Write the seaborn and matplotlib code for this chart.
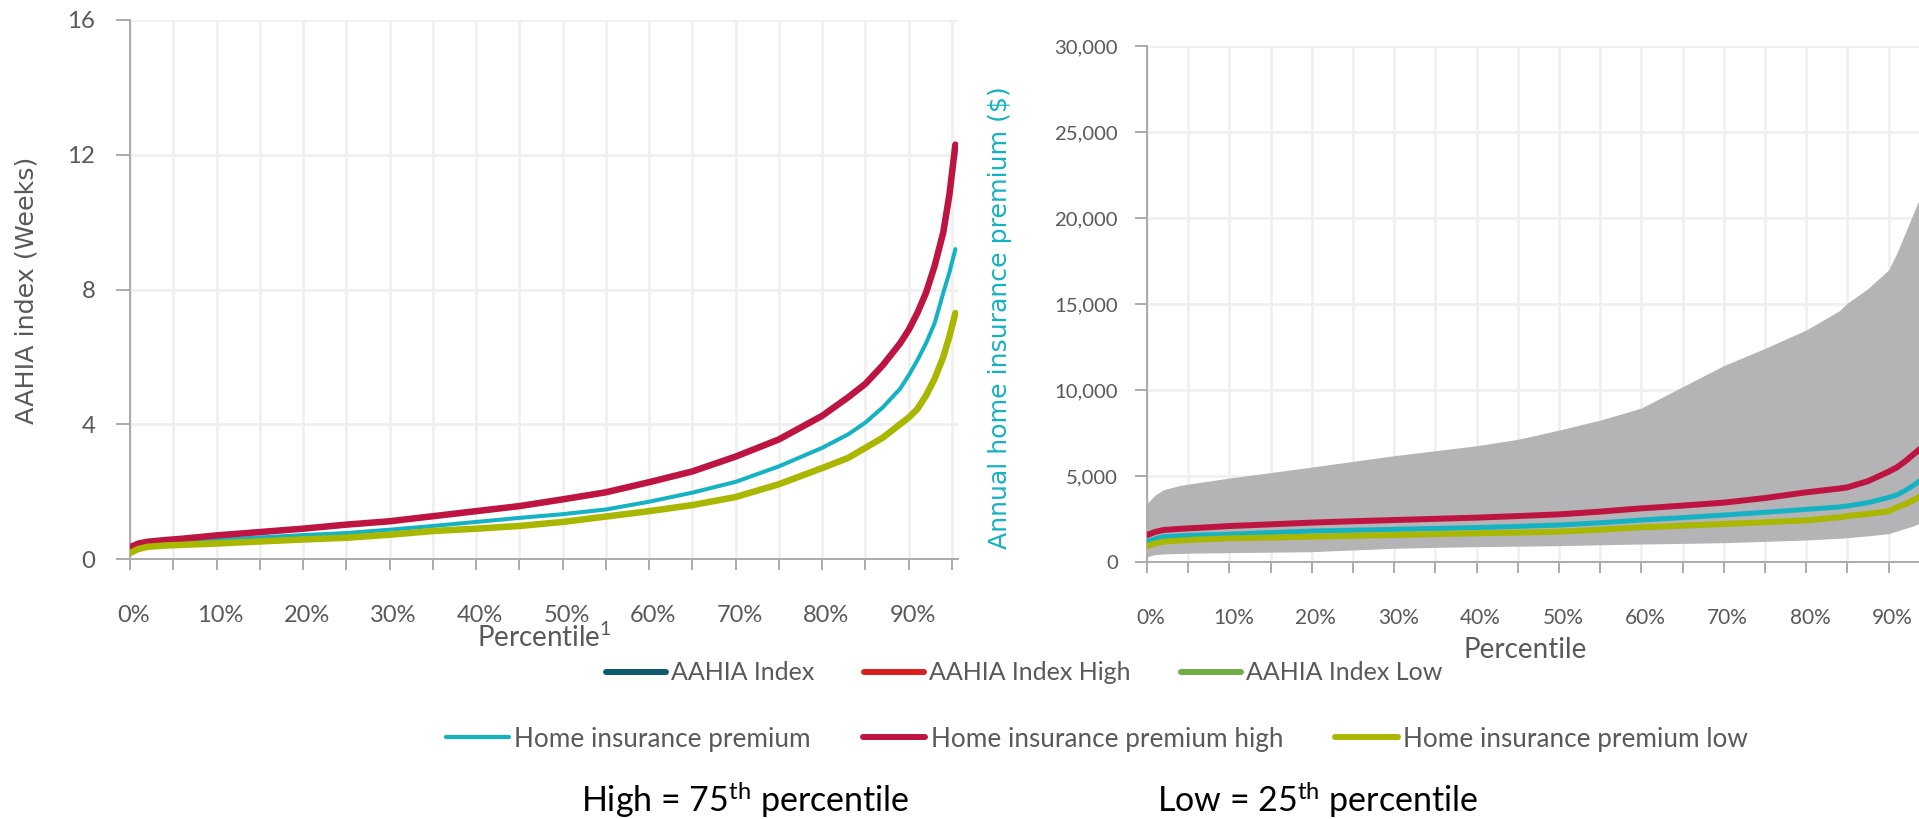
import matplotlib
matplotlib.use("Agg")
import matplotlib.pyplot as plt
from matplotlib.lines import Line2D
from matplotlib.ticker import FixedLocator, FuncFormatter
from matplotlib.transforms import ScaledTranslation
import seaborn as sns

# ---------------- data ----------------
# Left chart: AAHIA index (weeks) by percentile
l_pct = [0, 1, 2, 4, 6, 10, 15, 20, 25, 30, 35, 40, 45, 50, 55, 60, 65, 70, 75, 80,
         83, 85, 87, 89, 90, 91, 92, 93, 94, 94.7, 95.4]
l_high = [0.35, 0.46, 0.51, 0.56, 0.6, 0.7, 0.8, 0.9, 1.02, 1.12, 1.27, 1.42, 1.57, 1.77,
          1.98, 2.28, 2.6, 3.04, 3.55, 4.25, 4.8, 5.2, 5.75, 6.4, 6.8, 7.3, 7.9, 8.7, 9.7,
          10.8, 12.3]
l_mid = [0.28, 0.38, 0.43, 0.47, 0.5, 0.57, 0.64, 0.71, 0.77, 0.87, 0.98, 1.1, 1.22, 1.33,
         1.47, 1.7, 1.97, 2.29, 2.75, 3.3, 3.7, 4.05, 4.5, 5.05, 5.45, 5.9, 6.4, 7.0, 7.9,
         8.5, 9.2]
l_low = [0.18, 0.3, 0.36, 0.4, 0.42, 0.46, 0.52, 0.58, 0.63, 0.72, 0.83, 0.9, 0.98, 1.1,
         1.26, 1.42, 1.6, 1.84, 2.22, 2.7, 3.0, 3.3, 3.6, 4.0, 4.2, 4.45, 4.85, 5.35, 6.0,
         6.6, 7.3]

# Right chart: annual home insurance premium ($) by percentile
r_pct = [0, 1, 2, 4, 6, 10, 15, 20, 25, 30, 35, 40, 45, 50, 55, 60, 62, 65, 70, 75, 80,
         84, 85, 87.5, 90, 91, 92, 93, 94]
band_hi = [3400, 3900, 4200, 4450, 4600, 4880, 5200, 5520, 5850, 6180, 6470, 6760, 7130,
           7670, 8250, 8950, 9450, 10190, 11420, 12420, 13490, 14600, 15050, 15900, 16980,
           17950, 19110, 20270, 21400]
band_lo = [310, 430, 470, 500, 520, 545, 570, 600, 700, 795, 850, 892, 920, 950, 1000,
           1046, 1060, 1080, 1124, 1200, 1279, 1380, 1415, 1520, 1650, 1800, 1950, 2100, 2300]
r_high = [1570, 1750, 1860, 1930, 1980, 2090, 2190, 2290, 2370, 2440, 2510, 2580, 2670,
          2770, 2930, 3120, 3180, 3280, 3450, 3720, 4050, 4270, 4340, 4700, 5250, 5500,
          5850, 6250, 6650]
r_mid = [1180, 1350, 1470, 1520, 1560, 1610, 1710, 1800, 1850, 1900, 1950, 2000, 2070,
         2150, 2280, 2440, 2500, 2580, 2730, 2890, 3060, 3200, 3260, 3450, 3750, 3900,
         4150, 4450, 4800]
r_low = [930, 1080, 1180, 1250, 1300, 1376, 1420, 1473, 1520, 1570, 1620, 1667, 1710,
         1763, 1880, 2015, 2050, 2110, 2209, 2310, 2420, 2600, 2674, 2800, 2950, 3180,
         3350, 3600, 3850]

left_yticks = [0, 4, 8, 12, 16]
right_yticks = [0, 5000, 10000, 15000, 20000, 25000, 30000]
legend_row1 = ["AAHIA Index", "AAHIA Index High", "AAHIA Index Low"]
legend_row2 = ["Home insurance premium", "Home insurance premium high",
               "Home insurance premium low"]

# ---------------- style ----------------
sns.set_style("white")
plt.rcParams["font.family"] = ["Lato", "DejaVu Sans"]
plt.rcParams["mathtext.default"] = "regular"

C_MID = "#14B2C2"
C_HIGH = "#BE1441"
C_LOW = "#A9B700"
C_BAND = "#B4B4B6"
C_IDX = "#0F5A6E"
C_IDXH = "#DA1F1F"
C_IDXL = "#70AD47"
TXT = "#595959"
GRID = "#F0F0F0"
SPINE = "#ABABAB"

W, H = 1919, 819
fig = plt.figure(figsize=(W / 100, H / 100), dpi=100)


def style_axes(ax, xmax, minor_max, ylab_size, tick_size, ypad):
    for s in ["top", "right"]:
        ax.spines[s].set_visible(False)
    for s in ["left", "bottom"]:
        ax.spines[s].set_color(SPINE)
        ax.spines[s].set_linewidth(1.4)
    ax.xaxis.set_major_locator(FixedLocator(list(range(0, 91, 10))))
    ax.xaxis.set_minor_locator(FixedLocator(list(range(5, minor_max + 1, 10))))
    ax.xaxis.set_major_formatter(FuncFormatter(lambda v, p: f"{int(v)}%"))
    ax.grid(True, which="both", axis="x", color=GRID, linewidth=2.0, zorder=0)
    ax.grid(True, which="major", axis="y", color=GRID, linewidth=2.0, zorder=0)
    ax.tick_params(axis="x", which="both", length=8, width=1.4, color=SPINE,
                   direction="out", bottom=True)
    ax.tick_params(axis="x", which="major", pad=25, labelsize=tick_size,
                   labelcolor=TXT)
    ax.tick_params(axis="y", which="major", length=10, width=1.4, color=SPINE,
                   direction="out", left=True, pad=ypad, labelsize=ylab_size,
                   labelcolor=TXT)
    ax.set_xlim(0, xmax)
    ax.set_axisbelow(True)


# ---------------- left chart ----------------
ax1 = fig.add_axes([130 / W, 1 - 559 / H, (958 - 130) / W, (559 - 20) / H])
sns.lineplot(x=l_pct, y=l_mid, ax=ax1, color=C_MID, linewidth=2.9, zorder=3)
sns.lineplot(x=l_pct, y=l_high, ax=ax1, color=C_HIGH, linewidth=4.7, zorder=4)
sns.lineplot(x=l_pct, y=l_low, ax=ax1, color=C_LOW, linewidth=4.7, zorder=5)
ax1.set_ylim(0, 16)
ax1.set_yticks(left_yticks)
style_axes(ax1, 95.7, 95, 17.3, 17.0, 15)
ax1.set_xlabel("")
ax1.set_ylabel("")
fig.text(27 / W, 1 - 290 / H, "AAHIA index (Weeks)", rotation=90, ha="center",
         va="center", color=TXT, fontsize=18.3, family=["DejaVu Sans"])
fig.text(544 / W, 1 - 637 / H, "Percentile$^1$", ha="center", va="center",
         color=TXT, fontsize=20)

# ---------------- right chart ----------------
xmax_r = (W - 1147) / 8.24
ax2 = fig.add_axes([1147 / W, 1 - 562 / H, (W - 1147) / W, (562 - 46) / H])
ax2.fill_between(r_pct, band_lo, band_hi, color=C_BAND, linewidth=0, zorder=2)
sns.lineplot(x=r_pct, y=r_mid, ax=ax2, color=C_MID, linewidth=3.6, zorder=3)
sns.lineplot(x=r_pct, y=r_high, ax=ax2, color=C_HIGH, linewidth=4.3, zorder=4)
sns.lineplot(x=r_pct, y=r_low, ax=ax2, color=C_LOW, linewidth=4.3, zorder=5)
ax2.set_ylim(0, 30000)
ax2.set_yticks(right_yticks)
ax2.yaxis.set_major_formatter(FuncFormatter(lambda v, p: f"{int(v):,}"))
style_axes(ax2, xmax_r, 85, 14.6, 15.0, 12)
ax2.tick_params(axis="y", length=9)
ax2.set_xlabel("")
ax2.set_ylabel("")
fig.text(1000 / W, 1 - 318 / H, "Annual home insurance premium ($)", rotation=90,
         ha="center", va="center", color=C_MID, fontsize=18.2,
         family=["DejaVu Sans"])
fig.text(1525 / W, 1 - 650 / H, "Percentile", ha="center", va="center",
         color=TXT, fontsize=20)

# nudge x tick labels slightly right, as in the original
for ax in (ax1, ax2):
    for lab in ax.get_xticklabels():
        lab.set_transform(lab.get_transform()
                          + ScaledTranslation(4 / 100, 0, fig.dpi_scale_trans))

# ---------------- legends ----------------
def make_legend(labels, colors, widths, x, y, size, spacing):
    handles = [Line2D([0], [0], color=c, linewidth=w, solid_capstyle="round")
               for c, w in zip(colors, widths)]
    leg = fig.legend(handles, labels, loc="center left",
                     bbox_to_anchor=(x / W, 1 - y / H), ncol=3, frameon=False,
                     borderpad=0, borderaxespad=0, handlelength=2.4,
                     handletextpad=0.2, columnspacing=spacing,
                     prop={"family": "Lato", "size": size})
    for t in leg.get_texts():
        t.set_color(TXT)
    return leg


make_legend(legend_row1, [C_IDX, C_IDXH, C_IDXL], [4.3, 4.3, 4.3], 606, 673, 18.0, 2.0)
make_legend(legend_row2, [C_MID, C_HIGH, C_LOW], [3.0, 4.3, 4.3], 446, 739, 18.8, 2.0)

fig.text(745 / W, 1 - 800 / H, "High = 75$^{th}$ percentile", ha="center",
         va="center", color="black", fontsize=24.5)
fig.text(1318 / W, 1 - 800 / H, "Low = 25$^{th}$ percentile", ha="center",
         va="center", color="black", fontsize=24.5)

fig.savefig("out.png", dpi=100)
